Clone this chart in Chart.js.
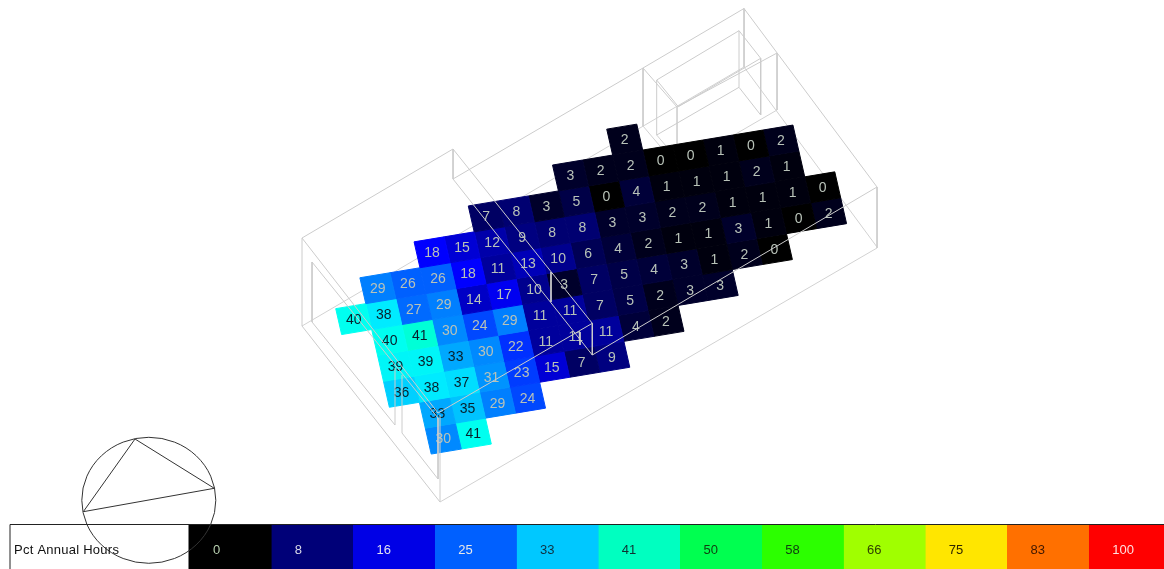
<!DOCTYPE html>
<html>
<head>
<title>Pct Annual Hours</title>
<script src="https://cdn.jsdelivr.net/npm/chart.js"></script>
<style>
  html, body { margin: 0; padding: 0; background: #fff; overflow: hidden; }
  canvas { display: block; }
</style>
</head>
<body>
<canvas id="chart" width="1164" height="569"></canvas>
<script>
// sensor grid, one array per row of the plane
const rowStartCols = [2, 0, -3, -5, -7, -8, -7, -7, -7, -6, -6];
const row0 = [2];
const row1 = [3, 2, 2, 0, 0, 1, 0, 2];
const row2 = [7, 8, 3, 5, 0, 4, 1, 1, 1, 2, 1];
const row3 = [18, 15, 12, 9, 8, 8, 3, 3, 2, 2, 1, 1, 1, 0];
const row4 = [29, 26, 26, 18, 11, 13, 10, 6, 4, 2, 1, 1, 3, 1, 0, 2];
const row5 = [40, 38, 27, 29, 14, 17, 10, 3, 7, 5, 4, 3, 1, 2, 0];
const row6 = [40, 41, 30, 24, 29, 11, 11, 7, 5, 2, 3, 3];
const row7 = [39, 39, 33, 30, 22, 11, 11, 11, 4, 2];
const row8 = [36, 38, 37, 31, 23, 15, 7, 9];
const row9 = [33, 35, 29, 24];
const row10 = [30, 41];
const rows = [row0, row1, row2, row3, row4, row5, row6, row7, row8, row9, row10];

// legend
const legendTicks = [0, 8, 16, 25, 33, 41, 50, 58, 66, 75, 83, 100];
const legendColors = ['#000000', '#000078', '#0000e6', '#0060ff', '#00c8ff', '#00ffc0',
  '#00ff50', '#2cff00', '#a0ff00', '#ffe600', '#ff7000', '#ff0000'];
const legendTextColors = ['#b8d0b0', '#d8d8e8', '#e0e0f0', '#e8e8e8', '#103040', '#103030',
  '#104010', '#104010', '#304000', '#302800', '#401800', '#ffe0e0'];

// colour ramp used for the cells
const rampValues = [0, 18, 26, 33, 38, 40, 41];
const rampColors = [[0, 0, 0], [0, 0, 255], [0, 96, 255], [0, 168, 255], [0, 235, 255], [0, 255, 240], [0, 255, 215]];
// this 41 is drawn in the cyan of a 40 in the picture
const shadeOverrides = { '10,1': 40 };

// room wireframe, polylines as x,y pairs in picture units
const wiresBelow = [
  [302, 326, 744, 67],
  [440, 502, 877, 248],
  [744, 67, 877, 247],
  [777, 110, 703, 153],
  [656.7, 135, 672, 153],
  [677, 107, 677, 148],
  [643, 126, 665, 152]
];
const wiresAbove = [
  [302, 326, 302, 238, 453, 149, 453, 179, 643, 68, 744, 8.5, 877, 187, 877, 248],
  [302, 326, 440, 502, 440, 415],
  [744, 8.5, 744, 67],
  [643, 68, 643, 126],
  [643, 68, 677, 107, 777, 53, 777, 110],
  [656.7, 135, 656.7, 80, 739, 30.7, 760.7, 58.3, 760.7, 115, 739, 87.3, 739, 30.7],
  [739, 87.3, 656.7, 135],
  [656.7, 80, 678.3, 106.7, 760.7, 58.3],
  [453, 149, 592.3, 323.3, 592.3, 355, 453, 179],
  [877, 187, 592.3, 355],
  [592.3, 323.3, 438, 413],
  [302, 238, 438, 413],
  [312, 262, 438, 418, 438, 479, 402, 433, 402, 375],
  [312, 262, 312, 322, 395, 425, 395, 368],
  [551, 272, 551, 302],
  [580, 332, 580, 345]
];
const compassTriangle = [135, 439, 214.3, 488.3, 83.3, 511.7, 135, 439];

// grid to picture transform
const origin = { x: 570.5, y: 175.5 };
const colStep = { x: 30.05, y: -5 };
const rowStep = { x: 5.9, y: 25.9 };
const project = (c, r) => ({
  x: origin.x + c * colStep.x + r * rowStep.x,
  y: origin.y + c * colStep.y + r * rowStep.y
});

function rampColor(v) {
  let i = 0;
  while (i < rampValues.length - 2 && v > rampValues[i + 1]) i++;
  const t = (v - rampValues[i]) / (rampValues[i + 1] - rampValues[i]);
  const c = rampColors[i].map((a, k) => Math.round(a + (rampColors[i + 1][k] - a) * t));
  return `rgb(${c[0]},${c[1]},${c[2]})`;
}

const polygon = (points, color, order) => ({
  data: points,
  showLine: true,
  fill: 'shape',
  backgroundColor: color,
  borderColor: color,
  borderWidth: 1,
  pointRadius: 0,
  tension: 0,
  order: order
});

const polyline = (flat, color, order, width) => {
  const points = [];
  for (let i = 0; i < flat.length; i += 2) points.push({ x: flat[i], y: flat[i + 1] });
  return {
    data: points,
    showLine: true,
    fill: false,
    borderColor: color,
    borderWidth: width || 1,
    pointRadius: 0,
    tension: 0,
    order: order
  };
};

const datasets = [];
const cellLabels = [];

wiresBelow.forEach(w => datasets.push(polyline(w, '#d2d2d2', 50)));

rows.forEach((values, i) => {
  values.forEach((v, j) => {
    const c = rowStartCols[i] + j;
    const r = i - 1;
    const shade = shadeOverrides[i + ',' + j] ?? v;
    datasets.push(polygon([
      project(c - 0.5, r - 0.5), project(c + 0.5, r - 0.5),
      project(c + 0.5, r + 0.5), project(c - 0.5, r + 0.5),
      project(c - 0.5, r - 0.5)
    ], rampColor(shade), 40));
    cellLabels.push({ ...project(c, r), text: String(v), dark: v >= 33 });
  });
});

// marks the point in the draw order where the cell numbers go
datasets.push({ label: 'cellText', data: [], order: 30 });
wiresAbove.forEach(w => datasets.push(polyline(w, '#cccccc', 20)));

// legend strip
const legendLeft = 189, legendStep = 81.75, legendTop = 524.5, legendBottom = 569;
legendColors.forEach((color, i) => {
  const x0 = legendLeft + i * legendStep;
  const x1 = Math.min(x0 + legendStep, 1164);
  datasets.push(polygon([
    { x: x0, y: legendTop }, { x: x1, y: legendTop },
    { x: x1, y: legendBottom }, { x: x0, y: legendBottom }, { x: x0, y: legendTop }
  ], color, 15));
});
datasets.push(polyline([10, 569, 10, legendTop, 1164, legendTop], '#222222', 12));
datasets.push(polyline(compassTriangle, '#333333', 10));

const pictureText = {
  id: 'pictureText',
  afterDatasetDraw(chart, args) {
    if (chart.data.datasets[args.index].label !== 'cellText') return;
    const { x, y } = chart.scales;
    const ctx = chart.ctx;
    ctx.save();
    ctx.font = '14px "Liberation Sans", Arial, sans-serif';
    ctx.textAlign = 'center';
    ctx.textBaseline = 'middle';
    cellLabels.forEach(l => {
      ctx.fillStyle = l.dark ? '#08202c' : '#b8c2b8';
      ctx.fillText(l.text, x.getPixelForValue(l.x), y.getPixelForValue(l.y) + 1);
    });
    ctx.restore();
  },
  afterDraw(chart) {
    const { x, y } = chart.scales;
    const ctx = chart.ctx;
    ctx.save();
    // compass ring
    ctx.strokeStyle = '#333333';
    ctx.lineWidth = 1;
    ctx.beginPath();
    ctx.ellipse(x.getPixelForValue(148.8), y.getPixelForValue(500.3), 67, 63, 0, 0, Math.PI * 2);
    ctx.stroke();
    ctx.textBaseline = 'middle';
    ctx.font = '13px "Liberation Sans", Arial, sans-serif';
    ctx.textAlign = 'left';
    legendTicks.forEach((t, i) => {
      ctx.fillStyle = legendTextColors[i];
      ctx.fillText(String(t), x.getPixelForValue(legendLeft + i * legendStep + 24), y.getPixelForValue(550));
    });
    ctx.fillStyle = '#111111';
    ctx.letterSpacing = '0.25px';
    ctx.fillText('Pct Annual Hours', x.getPixelForValue(14), y.getPixelForValue(550));
    ctx.restore();
  }
};

new Chart(document.getElementById('chart'), {
  type: 'scatter',
  data: { datasets: datasets },
  options: {
    responsive: false,
    animation: false,
    events: [],
    layout: { padding: 0 },
    plugins: { legend: { display: false }, tooltip: { enabled: false } },
    scales: {
      x: { type: 'linear', min: 0, max: 1164, display: false },
      y: { type: 'linear', min: 0, max: 569, reverse: true, display: false }
    }
  },
  plugins: [pictureText]
});
</script>
</body>
</html>
